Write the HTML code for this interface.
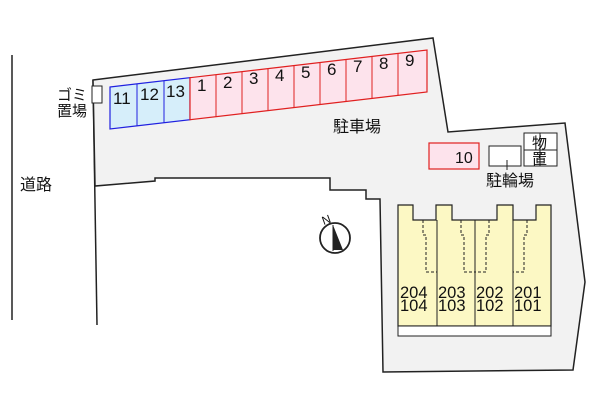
<!DOCTYPE html>
<html><head><meta charset="utf-8"><style>body{margin:0;background:#fff}svg{display:block}text{font-family:"Liberation Sans","Noto Sans CJK JP",sans-serif;fill:#111}</style></head><body>
<svg width="600" height="400" viewBox="0 0 600 400">
<line x1="12" y1="55" x2="12" y2="320" stroke="#222" stroke-width="1.5"/>
<line x1="93" y1="80" x2="97" y2="325" stroke="#222" stroke-width="1.5"/>
<polygon points="93,80 433,38 448,132 565,123 585,282 573,370 383,372 380,199 366,199 366,190 330,190 330,178 155,178 155,181 95,186" fill="#f2f2f2" stroke="#222" stroke-width="1.5"/>
<polygon points="110,87 190,77.7 190,119.7 110,129" fill="#d6eefa" stroke="#2020e0" stroke-width="1.2"/>
<line x1="137" y1="83.8" x2="137" y2="125.8" stroke="#2020e0"/><line x1="164" y1="80.7" x2="164" y2="122.7" stroke="#2020e0"/>
<polygon points="190,77.7 427,50 427,92 190,119.7" fill="#fde3ec" stroke="#e02020" stroke-width="1.2"/>
<g stroke="#e02020"><line x1="216" y1="74.6" x2="216" y2="116.6"/><line x1="242" y1="71.6" x2="242" y2="113.6"/><line x1="268" y1="68.6" x2="268" y2="110.6"/><line x1="294" y1="65.5" x2="294" y2="107.5"/><line x1="320" y1="62.5" x2="320" y2="104.5"/><line x1="346" y1="59.5" x2="346" y2="101.5"/><line x1="372" y1="56.4" x2="372" y2="98.4"/><line x1="398" y1="53.4" x2="398" y2="95.4"/></g>
<g font-size="17">
<text x="113" y="104">11</text><text x="140" y="100">12</text><text x="166" y="97">13</text>
<text x="197" y="91">1</text><text x="223" y="88">2</text><text x="249" y="84">3</text><text x="275" y="81">4</text><text x="301" y="78">5</text><text x="327" y="75">6</text><text x="353" y="72">7</text><text x="379" y="69">8</text><text x="405" y="66">9</text>
</g>
<rect x="92" y="86" width="10" height="17" fill="#fff" stroke="#222"/>
<text x="57" y="100" font-size="15">ゴミ</text><text x="57" y="116" font-size="15">置場</text>
<text x="333" y="132" font-size="16">駐車場</text>
<text x="20" y="190" font-size="16">道路</text>
<rect x="429" y="143" width="50" height="26" fill="#fde3ec" stroke="#e02020" stroke-width="1.2"/>
<text x="455" y="163" font-size="16">10</text>
<rect x="489" y="146" width="32" height="20" fill="#fff" stroke="#222"/>
<line x1="507" y1="160" x2="507" y2="170" stroke="#222"/>
<text x="486" y="186" font-size="16">駐輪場</text>
<rect x="524" y="133" width="33" height="33" fill="#fff" stroke="#222"/>
<line x1="540" y1="133" x2="540" y2="166" stroke="#222"/><line x1="524" y1="150" x2="557" y2="150" stroke="#222"/>
<text x="532" y="148" font-size="15">物</text><text x="532" y="164" font-size="15">置</text>
<circle cx="335" cy="238" r="15" fill="#fff" stroke="#222" stroke-width="1.8"/>
<polygon points="333,225 343,250 333,250" fill="#222"/>
<line x1="333" y1="225" x2="333" y2="251" stroke="#222"/>
<text x="322" y="224" font-size="12" transform="rotate(-20 326 220)">N</text>
<polygon points="398,205 413,205 413,220 436,220 436,205 452,205 452,220 497,220 497,205 513,205 513,220 536,220 536,205 551,205 551,326 398,326" fill="#fcf8c4" stroke="#222" stroke-width="1.2"/>
<g stroke="#222"><line x1="437" y1="220" x2="437" y2="336"/><line x1="475" y1="220" x2="475" y2="336"/><line x1="513" y1="220" x2="513" y2="336"/></g>
<rect x="398" y="326" width="153" height="10" fill="#fff" stroke="#222"/>
<g stroke="#222" stroke-dasharray="3,2" fill="none"><polyline points="423,220 423,235 426,235 426,272 437,272"/><polyline points="461,220 461,235 464,235 464,272 475,272"/><polyline points="489,220 489,235 486,235 486,272 475,272"/><polyline points="527,220 527,235 524,235 524,272 513,272"/></g>
<g font-size="16.5"><text x="400" y="298">204</text><text x="400" y="311">104</text><text x="438" y="298">203</text><text x="438" y="311">103</text><text x="476" y="298">202</text><text x="476" y="311">102</text><text x="514" y="298">201</text><text x="514" y="311">101</text></g>
</svg>
</body></html>
